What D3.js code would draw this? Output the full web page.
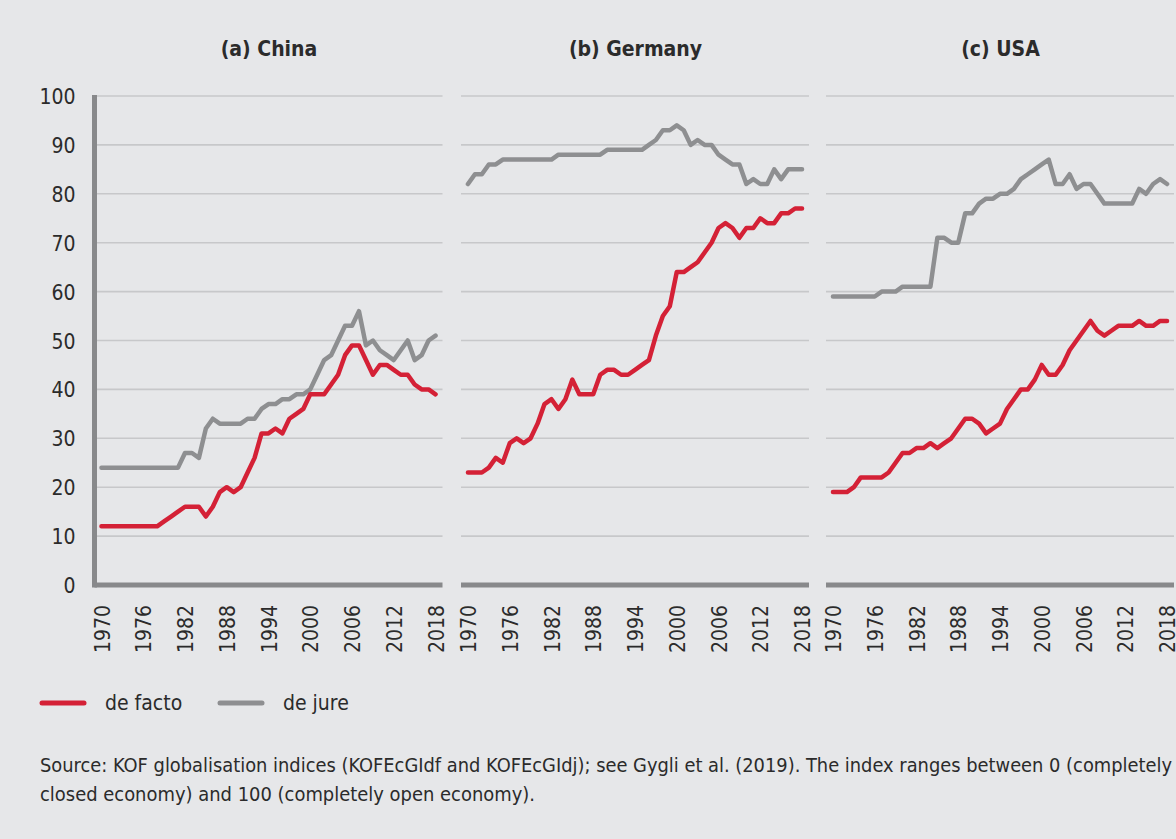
<!DOCTYPE html>
<html>
<head>
<meta charset="utf-8">
<script src="https://cdn.jsdelivr.net/npm/d3@7"></script>
<style>
  body { margin: 0; background: #e6e7e9; }
  text { font-family: "Liberation Sans Narrow", "DejaVu Sans Condensed", "Liberation Sans", sans-serif; fill: #2b2b2b; }
</style>
</head>
<body>
<svg id="chart" width="1176" height="839"></svg>
<script>
var years = d3.range(1970, 2019);
var panels = ["(a) China", "(b) Germany", "(c) USA"];
var yTicks = [0, 10, 20, 30, 40, 50, 60, 70, 80, 90, 100];
var xTicks = [1970, 1976, 1982, 1988, 1994, 2000, 2006, 2012, 2018];

var chinaFacto = [12,12,12,12,12,12,12,12,12,13,14,15,16,16,16,14,16,19,20,19,20,23,26,31,31,32,31,34,35,36,39,39,39,41,43,47,49,49,46,43,45,45,44,43,43,41,40,40,39];
var chinaJure = [24,24,24,24,24,24,24,24,24,24,24,24,27,27,26,32,34,33,33,33,33,34,34,36,37,37,38,38,39,39,40,43,46,47,50,53,53,56,49,50,48,47,46,48,50,46,47,50,51];
var germanyFacto = [23,23,23,24,26,25,29,30,29,30,33,37,38,36,38,42,39,39,39,43,44,44,43,43,44,45,46,51,55,57,64,64,65,66,68,70,73,74,73,71,73,73,75,74,74,76,76,77,77];
var germanyJure = [82,84,84,86,86,87,87,87,87,87,87,87,87,88,88,88,88,88,88,88,89,89,89,89,89,89,90,91,93,93,94,93,90,91,90,90,88,87,86,86,82,83,82,82,85,83,85,85,85];
var usaFacto = [19,19,19,20,22,22,22,22,23,25,27,27,28,28,29,28,29,30,32,34,34,33,31,32,33,36,38,40,40,42,45,43,43,45,48,50,52,54,52,51,52,53,53,53,54,53,53,54,54];
var usaJure = [59,59,59,59,59,59,59,60,60,60,61,61,61,61,61,71,71,70,70,76,76,78,79,79,80,80,81,83,84,85,86,87,82,82,84,81,82,82,80,78,78,78,78,78,81,80,82,83,82];

var facto = [chinaFacto, germanyFacto, usaFacto];
var jure = [chinaJure, germanyJure, usaJure];

var red = "#d42136", grey = "#8e8f91";

var svg = d3.select("#chart");

svg.append("rect")
	.attr("width", 1176).attr("height", 839)
	.attr("fill", "#e6e7e9");

var panelLeft = [94.5, 461, 826],
	panelWidth = 348,
	plotTop = 96, plotBottom = 585;

var y = d3.scaleLinear()
	.domain([0, 100])
	.range([plotBottom, plotTop]);

panels.forEach(function(title, i) {
	var x0 = panelLeft[i];
	var x = d3.scaleLinear()
		.domain([1969, 2019])
		.range([x0, x0 + panelWidth]);

	var g = svg.append("g");

	// grid
	g.append("g")
		.selectAll("line")
		.data(yTicks.filter(d => d > 0))
		.enter().append("line")
		.attr("x1", x0).attr("x2", x0 + panelWidth)
		.attr("y1", d => y(d)).attr("y2", d => y(d))
		.attr("stroke", "#c7c8ca")
		.attr("stroke-width", 1.6);

	// title
	g.append("text")
		.attr("x", x0 + panelWidth / 2 + 0.5)
		.attr("y", 56)
		.attr("text-anchor", "middle")
		.attr("font-weight", "bold")
		.attr("font-size", 21)
		.text(title);

	// x axis
	var xAxis = g.append("g")
		.attr("transform", "translate(0," + plotBottom + ")")
		.call(d3.axisBottom(x).tickValues(xTicks).tickFormat(d3.format("d")).tickSize(0).tickSizeOuter(0));
	xAxis.select(".domain")
		.attr("d", "M" + x0 + ",0H" + (x0 + panelWidth))
		.attr("stroke", "#88898b")
		.attr("stroke-width", 5);
	xAxis.selectAll("text")
		.attr("font-size", 21)
		.attr("font-family", null)
		.attr("fill", "#2b2b2b")
		.attr("text-anchor", "end")
		.attr("transform", "rotate(-90)")
		.attr("x", -20)
		.attr("y", 0)
		.attr("dy", "0.36em");

	if (i === 0) {
		var yAxis = g.append("g")
			.attr("transform", "translate(" + x0 + ",0)")
			.call(d3.axisLeft(y).tickValues(yTicks).tickSize(0).tickSizeOuter(0));
		yAxis.select(".domain")
			.attr("d", "M0," + (plotTop - 1) + "V" + (plotBottom + 2.5))
			.attr("stroke", "#88898b")
			.attr("stroke-width", 5);
		yAxis.selectAll("text")
			.attr("font-size", 21)
			.attr("font-family", null)
			.attr("fill", "#2b2b2b")
			.attr("x", -19)
			.attr("dy", "0.36em");
	}

	var line = d3.line()
		.x((d, k) => x(years[k]))
		.y(d => y(d));

	[jure[i], facto[i]].forEach(function(series, k) {
		g.append("path")
			.datum(series)
			.attr("fill", "none")
			.attr("stroke", k === 0 ? grey : red)
			.attr("stroke-width", 4.5)
			.attr("stroke-linejoin", "round")
			.attr("stroke-linecap", "round")
			.attr("d", line);
	});
});

// legend
var legend = svg.append("g");
[["de facto", red, 42], ["de jure", grey, 220]].forEach(function(d) {
	legend.append("line")
		.attr("x1", d[2]).attr("x2", d[2] + 42)
		.attr("y1", 703).attr("y2", 703)
		.attr("stroke", d[1])
		.attr("stroke-width", 5)
		.attr("stroke-linecap", "round");
	legend.append("text")
		.attr("x", d[2] + 63)
		.attr("y", 710)
		.attr("font-size", 21)
		.text(d[0]);
});

// source note
svg.append("text")
	.attr("x", 40).attr("y", 772)
	.attr("font-size", 20)
	.attr("textLength", 1132)
	.attr("lengthAdjust", "spacingAndGlyphs")
	.text("Source: KOF globalisation indices (KOFEcGIdf and KOFEcGIdj); see Gygli et al. (2019). The index ranges between 0 (completely");
svg.append("text")
	.attr("x", 40).attr("y", 801)
	.attr("font-size", 20)
	.attr("textLength", 495)
	.attr("lengthAdjust", "spacingAndGlyphs")
	.text("closed economy) and 100 (completely open economy).");
</script>
</body>
</html>
